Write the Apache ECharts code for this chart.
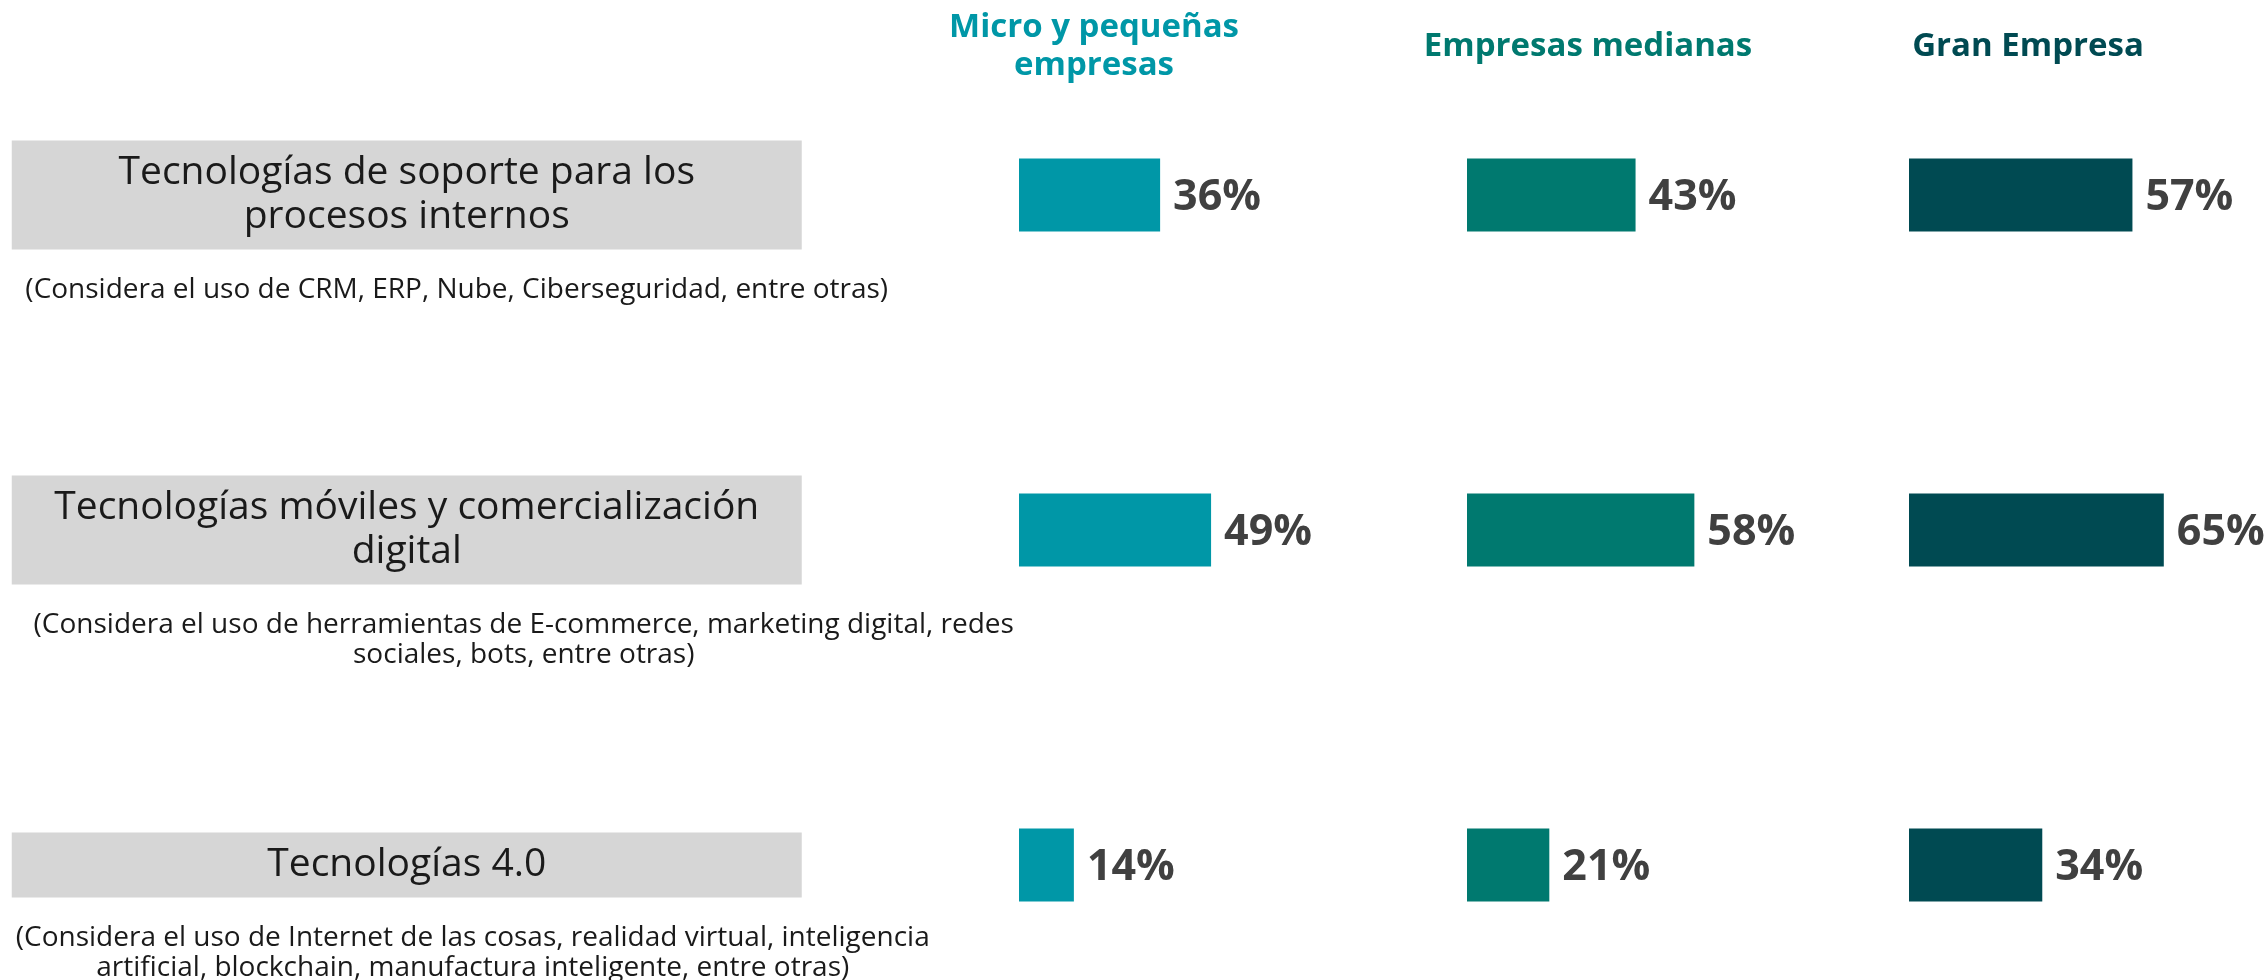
<!DOCTYPE html>
<html>
<head>
<meta charset="utf-8">
<script src="https://cdn.jsdelivr.net/npm/echarts@6/dist/echarts.min.js"></script>
<style>
    html, body { margin: 0; padding: 0; background: #fff; }
    #main { width: 2266px; height: 980px; }
</style>
</head>
<body>
<div id="main"></div>
<script>
    // categorias (filas)
    var categories = [
        'Tecnologías de soporte para los\nprocesos internos',
        'Tecnologías móviles y comercialización\ndigital',
        'Tecnologías 4.0'
    ];
    var notes = [
        '(Considera el uso de CRM, ERP, Nube, Ciberseguridad, entre otras)',
        '(Considera el uso de herramientas de E-commerce, marketing digital, redes\nsociales, bots, entre otras)',
        '(Considera el uso de Internet de las cosas, realidad virtual, inteligencia\nartificial, blockchain, manufactura inteligente, entre otras)'
    ];
    // columnas (tamaño de empresa)
    var segments = ['Micro y pequeñas\nempresas', 'Empresas medianas', 'Gran Empresa'];
    var microValues = [36, 49, 14];
    var medianaValues = [43, 58, 21];
    var granValues = [57, 65, 34];

    var font = 'Open Sans';
    var colors = ['#0097A7', '#00796F', '#004A52'];
    var colLeft = [1019, 1467, 1909];
    var colHeaderX = [1094, 1588, 2028];
    var noteShift = [50, 117, 66];
    var boxLine = 44, boxPad = 10.5, noteLine = 30, noteGap = 26;

    var chart = echarts.init(document.getElementById('main'));

    // grid 0: etiquetas; grids 1-3: barras
    var grids = [{ left: 11.5, width: 790.5, top: 27.5, height: 1005, outerBoundsMode: 'none' }];
    var xAxes = [{ gridIndex: 0, type: 'value', min: 0, max: 1, show: false }];
    var yAxes = [{ gridIndex: 0, type: 'category', data: categories, inverse: true, show: false }];
    colLeft.forEach(function(l, i) {
        grids.push({ left: l, width: 392, top: 27.5, height: 1005, outerBoundsMode: 'none' });
        xAxes.push({ gridIndex: i + 1, type: 'value', min: 0, max: 100, show: false });
        yAxes.push({ gridIndex: i + 1, type: 'category', data: categories, inverse: true, show: false });
    });

    var series = [{
        type: 'bar', xAxisIndex: 0, yAxisIndex: 0, silent: true,
        barWidth: 1, barGap: '-100%',
        itemStyle: { color: 'rgba(0,0,0,0)' },
        label: {
            show: true, position: 'inside', formatter: function(p) { return p.name; },
            width: 790, align: 'center', verticalAlign: 'middle',
            backgroundColor: '#D6D6D6', padding: [boxPad, 0],
            fontFamily: font, fontSize: 39, lineHeight: boxLine, color: '#1a1a1a'
        },
        data: categories.map(function() { return 1; })
    }, {
        type: 'bar', xAxisIndex: 0, yAxisIndex: 0, silent: true,
        barWidth: 1, barGap: '-100%',
        itemStyle: { color: 'rgba(0,0,0,0)' },
        label: {
            show: true, position: 'inside', align: 'center', verticalAlign: 'middle',
            fontFamily: font, fontSize: 28, lineHeight: noteLine, color: '#1a1a1a'
        },
        data: notes.map(function(n, i) {
            var boxH = categories[i].split('\n').length * boxLine + 2 * boxPad;
            var dy = boxH / 2 + noteGap + n.split('\n').length * noteLine / 2;
            return { value: 1, label: { formatter: n, offset: [noteShift[i], dy] } };
        })
    }];

    [microValues, medianaValues, granValues].forEach(function(vals, i) {
        series.push({
            name: segments[i], type: 'bar', xAxisIndex: i + 1, yAxisIndex: i + 1,
            barWidth: 73, data: vals,
            itemStyle: { color: colors[i] },
            label: {
                show: true, position: 'right', distance: 13, offset: [0, 3], formatter: '{c}%',
                fontFamily: font, fontWeight: 'bold', fontSize: 43, color: '#404040'
            }
        });
    });

    var headers = segments.map(function(s, i) {
        return {
            type: 'text', x: colHeaderX[i], y: 47,
            style: {
                text: s, align: 'center', verticalAlign: 'middle',
                font: 'bold 33px "' + font + '"', lineHeight: 38, fill: colors[i]
            }
        };
    });

    chart.setOption({
        animation: false,
        grid: grids,
        xAxis: xAxes,
        yAxis: yAxes,
        series: series,
        graphic: headers
    });
</script>
</body>
</html>
